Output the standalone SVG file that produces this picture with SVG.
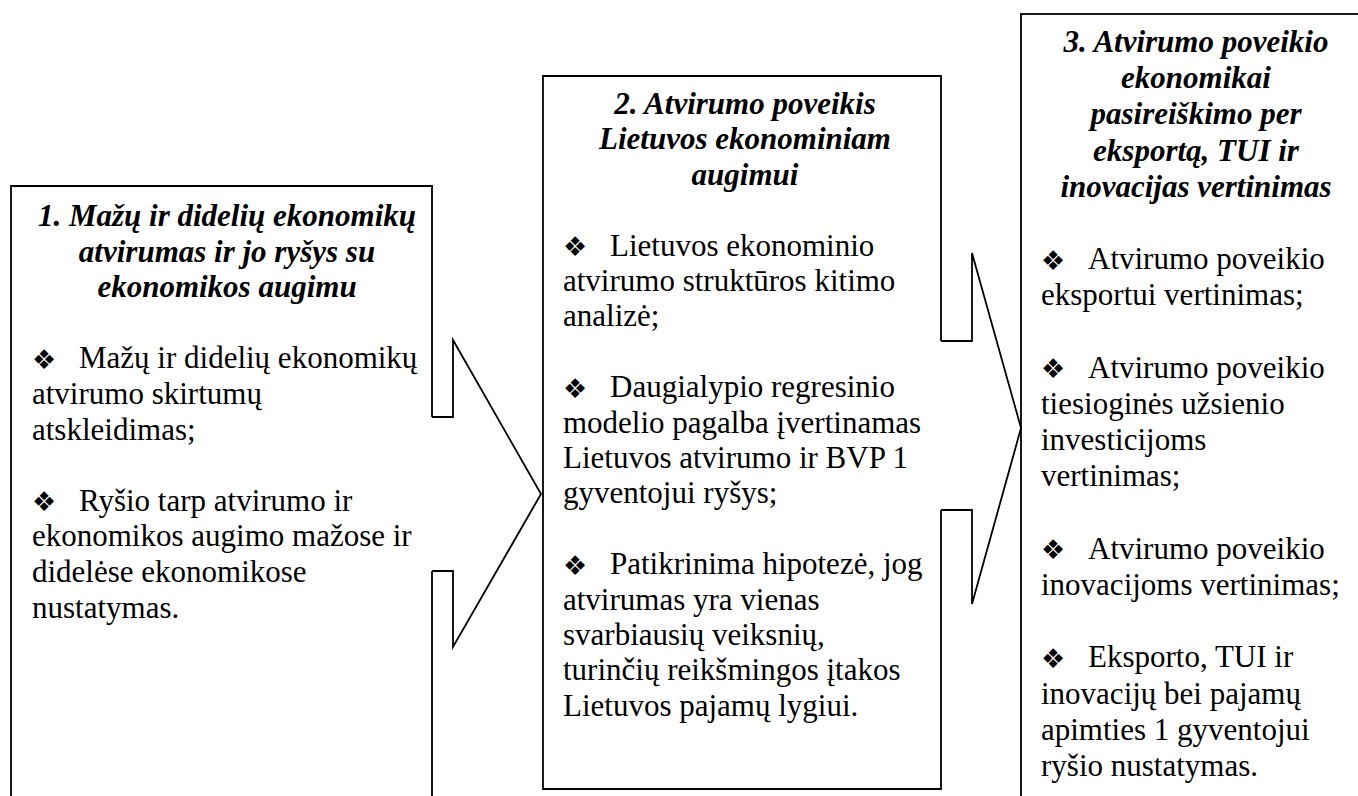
<svg xmlns="http://www.w3.org/2000/svg" width="1358" height="796" viewBox="0 0 1358 796">
<style>
.ln{fill:none;stroke:#000;stroke-width:1.8;stroke-linejoin:miter}
.t{font-family:"Liberation Serif","Times New Roman",serif;font-size:31px;fill:#000}
.h{font-family:"Liberation Serif","Times New Roman",serif;font-size:31px;font-weight:bold;font-style:italic;fill:#000;text-anchor:middle}
.b{font-family:"DejaVu Sans",sans-serif;font-size:27px;fill:#000}
</style>
<rect width="1358" height="796" fill="#fff"/>
<g id="node1">
<path class="ln" d="M432,417 V186 H11 V810 H432 V571"/>
<text class="h" x="227" y="226">1. Mažų ir didelių ekonomikų</text>
<text class="h" x="227" y="261.6">atvirumas ir jo ryšys su</text>
<text class="h" x="227" y="297.2">ekonomikos augimu</text>
<text class="b" x="32" y="369">❖</text>
<text class="t" x="79" y="368.4">Mažų ir didelių ekonomikų</text>
<text class="t" x="32" y="404">atvirumo skirtumų</text>
<text class="t" x="32" y="439.6">atskleidimas;</text>
<text class="b" x="32" y="511.4">❖</text>
<text class="t" x="79" y="510.8">Ryšio tarp atvirumo ir</text>
<text class="t" x="32" y="546.4">ekonomikos augimo mažose ir</text>
<text class="t" x="32" y="582">didelėse ekonomikose</text>
<text class="t" x="32" y="617.6">nustatymas.</text>
</g>
<g id="node2">
<path class="ln" d="M941,341 V76 H543 V789 H941 V510"/>
<text class="h" x="745" y="114">2. Atvirumo poveikis</text>
<text class="h" x="745" y="149.4">Lietuvos ekonominiam</text>
<text class="h" x="745" y="184.8">augimui</text>
<text class="b" x="563" y="256.2">❖</text>
<text class="t" x="610" y="255.6">Lietuvos ekonominio</text>
<text class="t" x="563" y="291">atvirumo struktūros kitimo</text>
<text class="t" x="563" y="326.4">analizė;</text>
<text class="b" x="563" y="397.8">❖</text>
<text class="t" x="610" y="397.2">Daugialypio regresinio</text>
<text class="t" x="563" y="432.6">modelio pagalba įvertinamas</text>
<text class="t" x="563" y="468">Lietuvos atvirumo ir BVP 1</text>
<text class="t" x="563" y="503.4">gyventojui ryšys;</text>
<text class="b" x="563" y="574.8">❖</text>
<text class="t" x="610" y="574.2">Patikrinima hipotezė, jog</text>
<text class="t" x="563" y="609.6">atvirumas yra vienas</text>
<text class="t" x="563" y="645">svarbiausių veiksnių,</text>
<text class="t" x="563" y="680.4">turinčių reikšmingos įtakos</text>
<text class="t" x="563" y="715.8">Lietuvos pajamų lygiui.</text>
</g>
<g id="node3">
<rect class="ln" x="1021" y="14" width="360" height="800"/>
<text class="h" x="1196" y="52">3. Atvirumo poveikio</text>
<text class="h" x="1196" y="88.2">ekonomikai</text>
<text class="h" x="1196" y="124.4">pasireiškimo per</text>
<text class="h" x="1196" y="160.6">eksportą, TUI ir</text>
<text class="h" x="1196" y="196.8">inovacijas vertinimas</text>
<text class="b" x="1041" y="269.8">❖</text>
<text class="t" x="1088" y="269.2">Atvirumo poveikio</text>
<text class="t" x="1041" y="305.4">eksportui vertinimas;</text>
<text class="b" x="1041" y="378.4">❖</text>
<text class="t" x="1088" y="377.8">Atvirumo poveikio</text>
<text class="t" x="1041" y="414">tiesioginės užsienio</text>
<text class="t" x="1041" y="450.2">investicijoms</text>
<text class="t" x="1041" y="486.4">vertinimas;</text>
<text class="b" x="1041" y="559.4">❖</text>
<text class="t" x="1088" y="558.8">Atvirumo poveikio</text>
<text class="t" x="1041" y="595">inovacijoms vertinimas;</text>
<text class="b" x="1041" y="668">❖</text>
<text class="t" x="1088" y="667.4">Eksporto, TUI ir</text>
<text class="t" x="1041" y="703.6">inovacijų bei pajamų</text>
<text class="t" x="1041" y="739.8">apimties 1 gyventojui</text>
<text class="t" x="1041" y="776">ryšio nustatymas.</text>
</g>
<g id="connectors">
<path class="ln" d="M432,417 H453 V340 L541,494 L453,647 V571 H432"/>
<path class="ln" d="M941,341 H972 V253 L1021,428 L972,604 V510 H941"/>
</g>
</svg>
